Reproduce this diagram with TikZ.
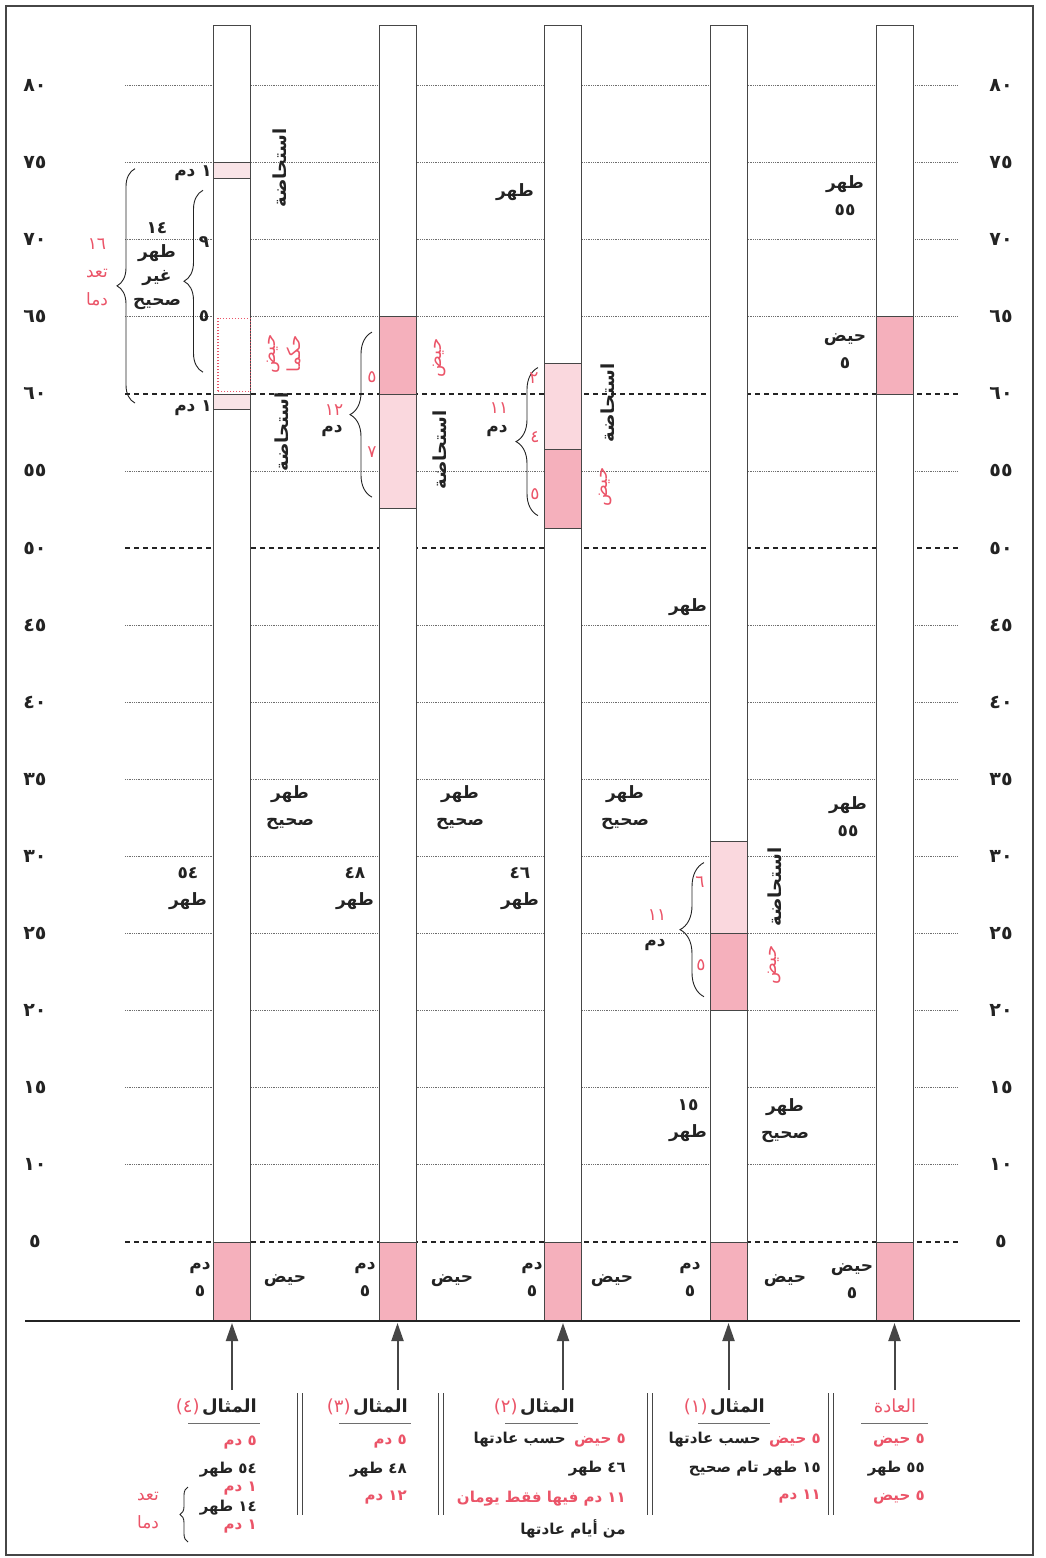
\documentclass[tikz,border=0pt]{standalone}
\usepackage{fontspec}
\usetikzlibrary{arrows.meta,decorations.pathreplacing,positioning}
\TeXXeTstate=1
\newfontfamily\arfont[Script=Arabic]{DejaVu Sans}
\newcommand{\ar}[1]{\beginR #1\endR}

\definecolor{ink}{RGB}{35,35,35}
\definecolor{redtext}{RGB}{235,84,104}
\definecolor{haidpink}{RGB}{245,176,188}
\definecolor{istpink}{RGB}{250,216,222}
\definecolor{istlight}{RGB}{249,228,231}
\definecolor{barline}{RGB}{70,70,70}
\definecolor{gridgray}{RGB}{110,110,110}

\tikzset{
  daybar/.style={draw=barline, line width=0.9pt, fill=white},
  haidbox/.style={draw=barline, line width=0.6pt, fill=haidpink},
  istbox/.style={draw=barline, line width=0.6pt, fill=istpink},
  hukm/.style={draw=redtext, line width=1.2pt, dash pattern=on 1.2pt off 1.8pt},
  gridline/.style={draw=gridgray, line width=0.7pt, dash pattern=on 0.9pt off 0.9pt},
  cutline/.style={draw=ink, line width=1.6pt, dash pattern=on 4.5pt off 4.5pt},
  sepline/.style={draw=barline, line width=1pt},
  headrule/.style={draw=gridgray, line width=0.8pt},
  lbl/.style={font=\arfont\bfseries\fontsize{17}{27}\selectfont, text=ink, inner sep=0pt, align=center},
  rlbl/.style={lbl, text=redtext, font=\arfont\fontsize{17}{27}\selectfont},
  vlbl/.style={lbl, rotate=90, font=\arfont\bfseries\fontsize{18}{25}\selectfont},
  axisnum/.style={lbl, font=\arfont\bfseries\fontsize{19}{20}\selectfont},
  captxt/.style={lbl, anchor=east, font=\arfont\bfseries\fontsize{15}{18}\selectfont},
  rcaptxt/.style={captxt, text=redtext},
  head/.style={lbl, font=\arfont\bfseries\fontsize{18}{20}\selectfont},
  rhead/.style={lbl, text=redtext, font=\arfont\fontsize{18}{20}\selectfont},
  brc/.style={decorate, decoration={brace, amplitude=#1}, draw=ink, line width=0.9pt},
  uparrow/.style={draw=barline, line width=2pt, -{Triangle[length=18pt,width=12pt]}}
}

\begin{document}
\begin{tikzpicture}[x=1pt, y=-1pt]
  \useasboundingbox (0,0) rectangle (1045,1558);
  \fill[white] (0,0) rectangle (1045,1558);
  \draw[line width=2pt, barline] (6,6) rectangle (1033,1555);

  % day scale: 15.42pt a day, day 0 on y=1319
  \begin{scope}[shift={(0,1319)}, y=15.42pt]
    \foreach \v in {80,75,70,65,55,45,40,35,30,25,20,15,10}
      \draw[gridline] (125,\v) -- (958,\v);
    \foreach \v in {60,50,5}
      \draw[cutline] (125,\v) -- (960,\v);

    % numbers on both sides
    \foreach \v/\lab in {80/٨٠,75/٧٥,70/٧٠,65/٦٥,60/٦٠,55/٥٥,50/٥٠,45/٤٥,40/٤٠,35/٣٥,30/٣٠,25/٢٥,20/٢٠,15/١٥,10/١٠,5/٥} {
      \node[axisnum] (l\v) at (35,\v) {\lab};
      \node[axisnum] (r\v) at (1001,\v) {\lab};
    }

    % bars
    \foreach \x in {213.5,379,544.5,710,876} {
      \draw[daybar] (\x,-0.13) rectangle ++(37,84);
      \draw[haidbox] (\x,-0.13) rectangle ++(37,5.13);
    }

    % example 4
    \draw[draw=barline, line width=0.6pt, fill=istlight] (213.5,59) rectangle (250.5,60);
    \draw[draw=barline, line width=0.6pt, fill=istlight] (213.5,74) rectangle (250.5,75);
    \draw[hukm] (218,60.15) rectangle (250.5,64.9);
    \draw[brc=18] (135,59.4) -- (135,74.6);
    \draw[brc=19] (203,61.4) -- (203,73.2);

    % example 3
    \draw[istbox] (379,52.6) rectangle (416,60);
    \draw[haidbox] (379,60) rectangle (416,65);
    \draw[brc=22] (372,53.3) -- (372,64);

    % example 2
    \draw[haidbox] (544.5,51.3) rectangle (581.5,56.4);
    \draw[istbox] (544.5,56.4) rectangle (581.5,62);
    \draw[brc=22] (538,52.1) -- (538,61.7);

    % example 1
    \draw[haidbox] (710,20) rectangle (747,25);
    \draw[istbox] (710,25) rectangle (747,31);
    \draw[brc=24] (704,20.9) -- (704,29.6);

    % habit
    \draw[haidbox] (876,60) rectangle (913,65);
  \end{scope}

  \draw[line width=2pt, ink] (25,1321) -- (1020,1321);

  % labels of example 4
  \node[lbl] (e4top) at (193,173) {\ar{١ دم}};
  \node[lbl] (e4low) at (193,408) {\ar{١ دم}};
  \node[vlbl] (e4ist1) at (280,168) {استحاضة};
  \node[vlbl, text=redtext, font=\arfont\fontsize{18}{25}\selectfont] (e4hukm) at (284,354) {حيض\\حكما};
  \node[vlbl] (e4ist2) at (282,432) {استحاضة};
  \node[lbl, font=\arfont\bfseries\fontsize{17}{24}\selectfont] (e4tuhr) at (157,266) {١٤\\طهر\\غير\\صحيح};
  \node[rlbl, font=\arfont\fontsize{17}{28}\selectfont] (e4count) at (97,272) {١٦\\تعد\\دما};
  \node[lbl] (e4nine) at (204,242) {٩};
  \node[lbl] (e4five) at (204,316) {٥};
  \node[lbl] (e4t54) at (188,889) {٥٤\\طهر};
  \node[lbl] (e4sahih) at (290,808) {طهر\\صحيح};
  \node[lbl] (e4dam) at (200,1280) {دم\\٥};
  \node[lbl] (e4haid) at (285,1281) {حيض};

  % labels of example 3
  \node[rlbl] (e3five) at (372,377) {٥};
  \node[rlbl] (e3seven) at (372,452) {٧};
  \node[rlbl] (e3sum) at (334,410) {١٢};
  \node[lbl] (e3dam) at (332,431) {دم};
  \node[vlbl, text=redtext, font=\arfont\fontsize{18}{25}\selectfont] (e3haid) at (440,358) {حيض};
  \node[vlbl] (e3ist) at (440,450) {استحاضة};
  \node[lbl] (e3t48) at (355,889) {٤٨\\طهر};
  \node[lbl] (e3sahih) at (460,808) {طهر\\صحيح};
  \node[lbl] (e3dam5) at (365,1280) {دم\\٥};
  \node[lbl] (e3haid5) at (452,1281) {حيض};

  % labels of example 2
  \node[rlbl] (e2two) at (534,378) {٢};
  \node[rlbl] (e2four) at (535,437) {٤};
  \node[rlbl] (e2five) at (535,494) {٥};
  \node[rlbl] (e2sum) at (499,408) {١١};
  \node[lbl] (e2dam) at (497,431) {دم};
  \node[vlbl] (e2ist) at (608,403) {استحاضة};
  \node[vlbl, text=redtext, font=\arfont\fontsize{18}{25}\selectfont] (e2haid) at (606,487) {حيض};
  \node[lbl] (e2top) at (515,192) {طهر};
  \node[lbl] (e2t46) at (520,889) {٤٦\\طهر};
  \node[lbl] (e2sahih) at (625,808) {طهر\\صحيح};
  \node[lbl] (e2dam5) at (532,1280) {دم\\٥};
  \node[lbl] (e2haid5) at (612,1281) {حيض};

  % labels of example 1
  \node[rlbl] (e1six) at (700,882) {٦};
  \node[rlbl] (e1five) at (701,965) {٥};
  \node[rlbl] (e1sum) at (657,915) {١١};
  \node[lbl] (e1dam) at (655,945) {دم};
  \node[vlbl] (e1ist) at (775,887) {استحاضة};
  \node[vlbl, text=redtext, font=\arfont\fontsize{18}{25}\selectfont] (e1haid) at (775,965) {حيض};
  \node[lbl] (e1top) at (688,607) {طهر};
  \node[lbl] (e1t15) at (688,1121) {١٥\\طهر};
  \node[lbl] (e1sahih) at (785,1121) {طهر\\صحيح};
  \node[lbl] (e1dam5) at (690,1280) {دم\\٥};
  \node[lbl] (e1haid5) at (785,1281) {حيض};

  % labels of the habit
  \node[lbl] (e0t1) at (845,196) {طهر\\٥٥};
  \node[lbl] (e0h1) at (845,351) {حيض\\٥};
  \node[lbl] (e0t2) at (848,817) {طهر\\٥٥};
  \node[lbl] (e0h2) at (852,1281) {حيض\\٥};

  % arrows up to the bars
  \foreach \x [count=\i] in {232,397.5,563,728.5,894.5} {
    \coordinate (src\i) at (\x,1390);
    \coordinate (dst\i) at (\x,1323);
    \draw[uparrow] (src\i) -- (dst\i);
  }

  \foreach \x in {297,438,647,828}
    \draw[sepline] (\x,1393) -- (\x,1515) (\x+5.5,1393) -- (\x+5.5,1515);

  % captions
  \node[rhead] (h0) at (895,1406) {العادة};
  \draw[headrule] (861,1423) -- (928,1423);
  \node[rcaptxt] (c0a) at (925,1440) {\ar{٥ حيض}};
  \node[captxt] (c0b) at (925,1469) {\ar{٥٥ طهر}};
  \node[rcaptxt] (c0c) at (925,1497) {\ar{٥ حيض}};

  \node[head, anchor=east] (h1) at (765,1407) {المثال};
  \node[rhead, left=2pt of h1] (n1) {(١)};
  \draw[headrule] (698,1423) -- (770,1423);
  \node[rcaptxt] (c1a) at (821,1440) {\ar{٥ حيض}};
  \node[captxt, left=8pt of c1a] (c1b) {\ar{حسب عادتها}};
  \node[captxt] (c1c) at (821,1469) {\ar{١٥ طهر تام صحيح}};
  \node[rcaptxt] (c1d) at (821,1497) {\ar{١١ دم}};

  \node[head, anchor=east] (h2) at (575,1407) {المثال};
  \node[rhead, left=2pt of h2] (n2) {(٢)};
  \draw[headrule] (505,1423) -- (578,1423);
  \node[rcaptxt] (c2a) at (626,1440) {\ar{٥ حيض}};
  \node[captxt, left=8pt of c2a] (c2b) {\ar{حسب عادتها}};
  \node[captxt] (c2c) at (626,1469) {\ar{٤٦ طهر}};
  \node[rcaptxt] (c2d) at (626,1499) {\ar{١١ دم فيها فقط يومان}};
  \node[captxt] (c2e) at (626,1529) {\ar{من أيام عادتها}};

  \node[head, anchor=east] (h3) at (408,1407) {المثال};
  \node[rhead, left=2pt of h3] (n3) {(٣)};
  \draw[headrule] (339,1423) -- (411,1423);
  \node[rcaptxt] (c3a) at (407,1441) {\ar{٥ دم}};
  \node[captxt] (c3b) at (407,1470) {\ar{٤٨ طهر}};
  \node[rcaptxt] (c3c) at (407,1498) {\ar{١٢ دم}};

  \node[head, anchor=east] (h4) at (257,1407) {المثال};
  \node[rhead, left=2pt of h4] (n4) {(٤)};
  \draw[headrule] (188,1423) -- (260,1423);
  \node[rcaptxt] (c4a) at (257,1442) {\ar{٥ دم}};
  \node[captxt] (c4b) at (257,1470) {\ar{٥٤ طهر}};
  \node[rcaptxt] (c4c) at (257,1489) {\ar{١ دم}};
  \node[captxt] (c4d) at (257,1508) {\ar{١٤ طهر}};
  \node[rcaptxt] (c4e) at (257,1527) {\ar{١ دم}};
  \draw[brc=8] (188,1542) -- (188,1487);
  \node[rlbl, font=\arfont\fontsize{17}{28}\selectfont] (c4f) at (148,1511) {تعد\\دما};
\end{tikzpicture}
\end{document}
